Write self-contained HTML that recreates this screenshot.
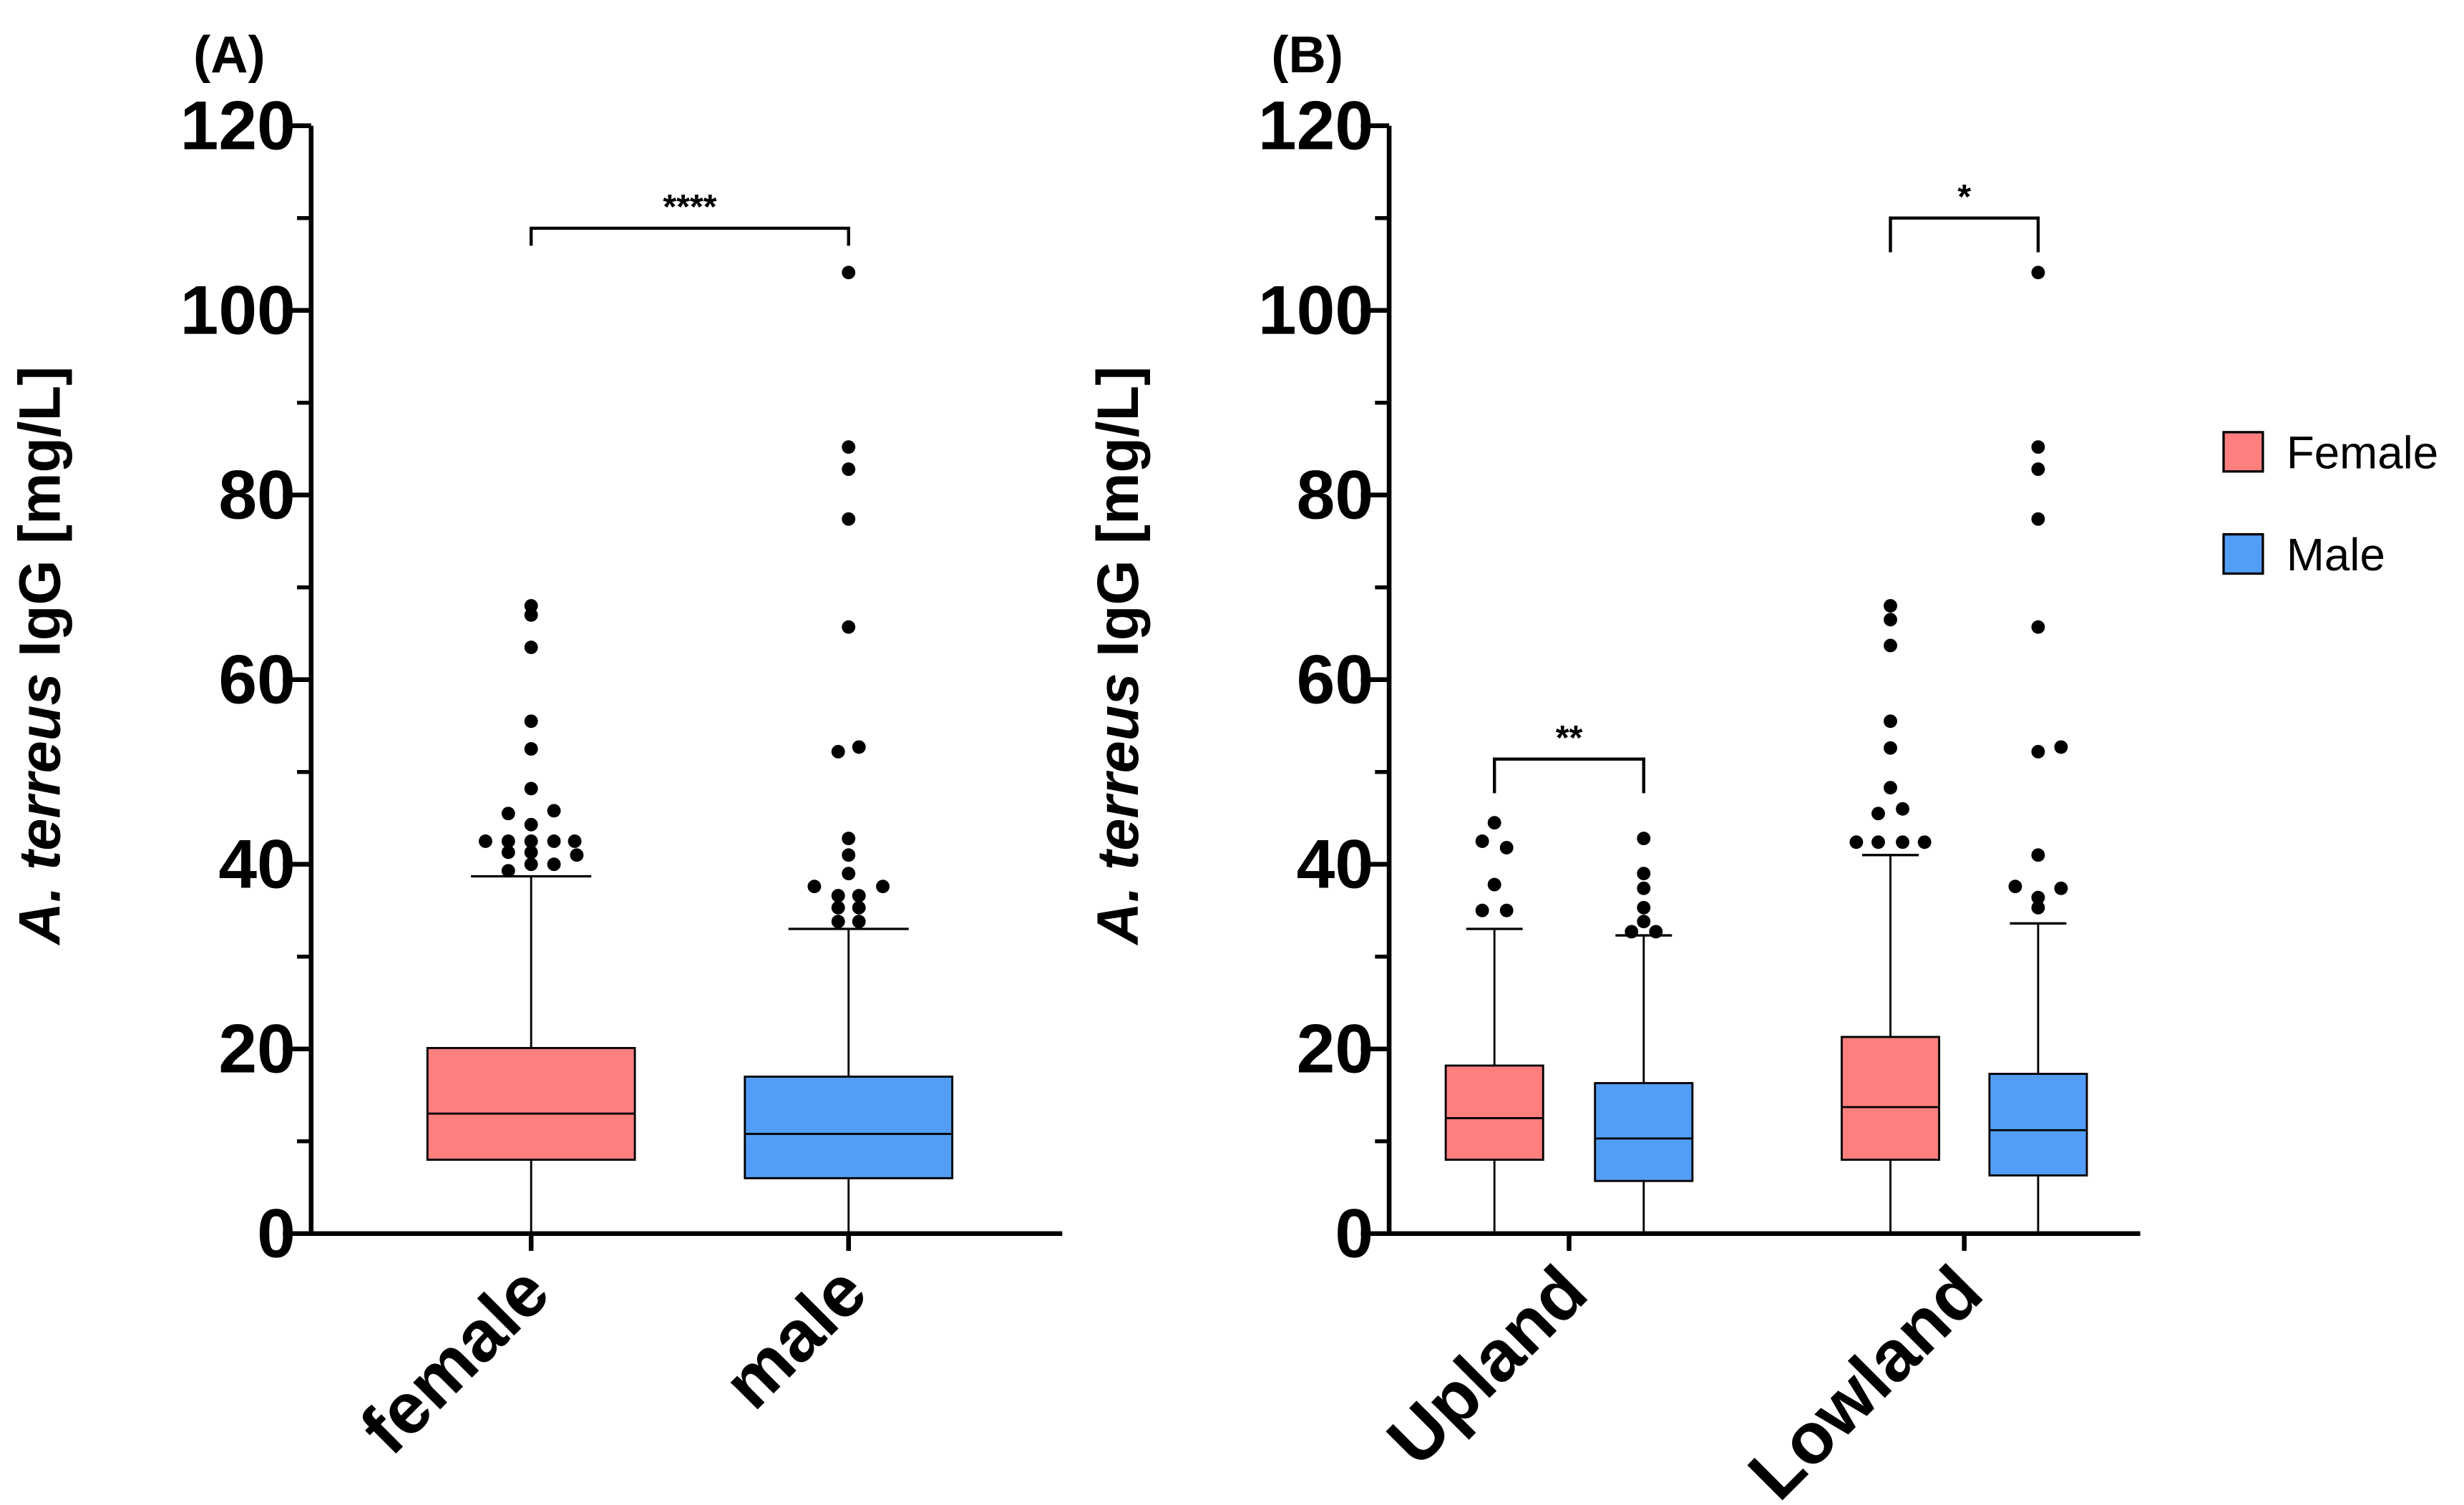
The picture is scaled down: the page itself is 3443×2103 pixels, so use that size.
<!DOCTYPE html>
<html><head><meta charset="utf-8"><style>
html,body{margin:0;padding:0;background:#fff}
svg{display:block}
text{font-family:"Liberation Sans",Arial,sans-serif}
</style></head><body>
<svg id="chart" width="3443" height="2103" viewBox="0 0 1568 957.7" xmlns="http://www.w3.org/2000/svg">
<g id="root"></g>
</svg>
<script>
const yTicks=[0,20,40,60,80,100,120];
const yMinor=[10,30,50,70,90,110];
// panel A
const catsA=["female","male"];
const seriesA=["Female","Male"];
const q1A=[8,6], medA=[13,10.8], q3A=[20.1,17], whiskA=[38.7,33];
const outA_f=[[68,0],[67,0],[63.5,0],[55.5,0],[52.5,0],[48.2,0],[45.5,-0.22],[45.8,0.22],[44.3,0],[42.5,-0.44],[42.5,-0.22],[42.5,0],[42.5,0.22],[42.5,0.42],[41.3,-0.22],[41.3,0],[41,0.44],[40,0],[40,0.22],[39.3,-0.22]];
const outA_m=[[104.1,0],[85.2,0],[82.8,0],[77.4,0],[65.7,0],[52.7,0.1],[52.2,-0.1],[42.8,0],[41,0],[39,0],[37.6,-0.33],[37.6,0.33],[36.6,-0.1],[36.6,0.1],[35.3,-0.1],[35.3,0.1],[33.8,-0.1],[33.8,0.1]];
// panel B
const catsB=["Upland","Lowland"];
const q1B=[8,5.7,8,6.3], medB=[12.5,10.3,13.7,11.2], q3B=[18.2,16.3,21.3,17.3], whiskB=[33,32.3,41,33.6];
const outB=[
 [[44.5,0],[42.5,-0.25],[41.8,0.25],[37.8,0],[35,-0.25],[35,0.25]],
 [[42.8,0],[39,0],[37.4,0],[35.3,0],[33.8,0],[32.7,-0.25],[32.7,0.25]],
 [[68,0],[66.5,0],[63.7,0],[55.5,0],[52.6,0],[48.3,0],[45.5,-0.25],[46,0.25],[42.4,-0.7],[42.4,-0.25],[42.4,0.25],[42.4,0.7]],
 [[104.1,0],[85.2,0],[82.8,0],[77.4,0],[65.7,0],[52.7,0.47],[52.2,0],[41,0],[37.6,-0.47],[37.4,0.47],[36.4,0],[35.3,0]]
];
const sig=[["****",0,1,108.9,107],["**",0,1,51.4,47.7],["*",2,3,110,106.3]];
const colors=["#ff7f7f","#529ef7"];

const NS="http://www.w3.org/2000/svg";
const root=document.getElementById('root');
function el(tag,attrs,parent,txt){const e=document.createElementNS(NS,tag);for(const k in attrs)e.setAttribute(k,attrs[k]);if(txt!==undefined)e.textContent=txt;(parent||root).appendChild(e);return e;}
const Y0=785,Y120=80;
function y(v){return Y0-(v-0)*(Y0-Y120)/120;}

function axes(ax,x1,label,lx){
  const g=el('g',{});
  
  
  el('line',{x1:ax,y1:y(120),x2:ax,y2:Y0+1.5,stroke:'#000','stroke-width':3},g);
  el('line',{x1:ax-1.5,y1:Y0,x2:x1,y2:Y0,stroke:'#000','stroke-width':3},g);
  yTicks.forEach(v=>{
    el('line',{x1:ax-18,y1:y(v),x2:ax,y2:y(v),stroke:'#000','stroke-width':3},g);
    const t=el('text',{x:ax-10,y:y(v)+15,'text-anchor':'end','font-size':44,'font-weight':'bold'},g,String(v));
    
    
  });
  yMinor.forEach(v=>el('line',{x1:ax-9,y1:y(v),x2:ax,y2:y(v),stroke:'#000','stroke-width':2.5},g));
  const yl=el('text',{transform:`translate(${lx},417) rotate(-90)`,'text-anchor':'middle','font-size':37,'font-weight':'bold'},g);
  
  
  el('tspan',{'font-style':'italic'},yl,'A. terreus');
  el('tspan',{},yl,' IgG [mg/L]');
  const pl=el('text',{x:ax-75,y:46,'font-size':33,'font-weight':'bold'},g,'('+label+')');
  
  
}
function box(cx,hw,q1,med,q3,wh,col,outs,name){
  const g=el('g',{});
  
  
  el('line',{x1:cx,y1:y(0),x2:cx,y2:y(wh),stroke:'#000','stroke-width':1.3},g);
  const cw=hw*0.58;
  el('line',{x1:cx-cw,y1:y(wh),x2:cx+cw,y2:y(wh),stroke:'#000','stroke-width':1.5},g);
  el('rect',{x:cx-hw,y:y(q3),width:2*hw,height:y(q1)-y(q3),fill:col,stroke:'#000','stroke-width':1.3},g);
  el('line',{x1:cx-hw,y1:y(med),x2:cx+hw,y2:y(med),stroke:'#000','stroke-width':1.3},g);
  outs.forEach(o=>{
    const c=el('circle',{cx:cx+o[1]*hw,cy:y(o[0]),r:4.3,fill:'#000'},g);
    
    
  });
}
function bracket(xa,xb,v,v2,txt){
  const g=el('g',{});
  
  
  el('path',{d:`M${xa},${y(v2)}V${y(v)}H${xb}V${y(v2)}`,fill:'none',stroke:'#000','stroke-width':2},g);
  el('text',{x:(xa+xb)/2,y:y(v)-6,'text-anchor':'middle','font-size':22,'font-weight':'bold'},g,txt);
}
function catLabel(x,t){
  el('line',{x1:x,y1:Y0,x2:x,y2:Y0+11,stroke:'#000','stroke-width':3});
  const e=el('text',{transform:`translate(${x+14},${Y0+40}) rotate(-45)`,'text-anchor':'end','font-size':46,'font-weight':'bold'},root,t);
  
  
}
// Panel A
axes(198,676,'A',38);
const cxA=[338,540];
box(cxA[0],66,q1A[0],medA[0],q3A[0],whiskA[0],colors[0],outA_f,'box-female');
box(cxA[1],66,q1A[1],medA[1],q3A[1],whiskA[1],colors[1],outA_m,'box-male');
catsA.forEach((c,i)=>catLabel(cxA[i],c));
bracket(cxA[0],cxA[1],sig[0][3],sig[0][4],sig[0][0]);
// Panel B
axes(884,1362,'B',724);
const cxB=[951,1046,1203,1297];
const namesB=['box-upland-female','box-upland-male','box-lowland-female','box-lowland-male'];
cxB.forEach((cx,i)=>box(cx,31,q1B[i],medB[i],q3B[i],whiskB[i],colors[i%2],outB[i],namesB[i]));
catsB.forEach((c,i)=>catLabel((cxB[2*i]+cxB[2*i+1])/2,c));
bracket(cxB[0],cxB[1],sig[1][3],sig[1][4],sig[1][0]);
bracket(cxB[2],cxB[3],sig[2][3],sig[2][4],sig[2][0]);
// Legend
seriesA.forEach((s,i)=>{
  const g=el('g',{});
  
  
  el('rect',{x:1415,y:275+i*65,width:25,height:25,fill:colors[i],stroke:'#000','stroke-width':1.5},g);
  el('text',{x:1455,y:298+i*65,'font-size':29},g,s);
});
</script>
</body></html>
